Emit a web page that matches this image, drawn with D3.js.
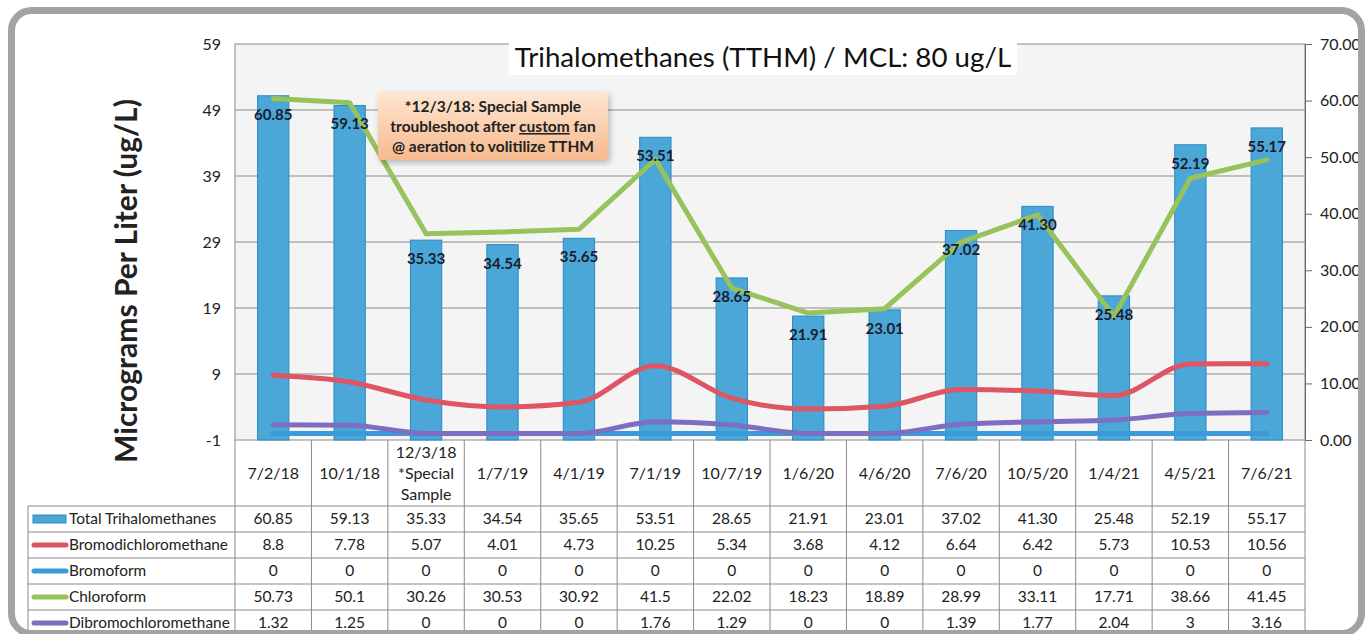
<!DOCTYPE html>
<html>
<head>
<meta charset="utf-8">
<script src="https://cdn.jsdelivr.net/npm/d3@7"></script>
<style>
  body { margin: 0; background: #fff; }
  text { font-family: Lato, "Open Sans", sans-serif; }
</style>
</head>
<body>
<div id="chart-container"></div>
<script>
// sample dates (x categories), "\n" splits the header cell into lines
const dates = ["7/2/18", "10/1/18", "12/3/18\n*Special\nSample", "1/7/19", "4/1/19", "7/1/19",
    "10/7/19", "1/6/20", "4/6/20", "7/6/20", "10/5/20", "1/4/21", "4/5/21", "7/6/21"];

const totalTHM = [60.85, 59.13, 35.33, 34.54, 35.65, 53.51, 28.65, 21.91, 23.01, 37.02, 41.30, 25.48, 52.19, 55.17];
const bromodichloromethane = [8.8, 7.78, 5.07, 4.01, 4.73, 10.25, 5.34, 3.68, 4.12, 6.64, 6.42, 5.73, 10.53, 10.56];
const bromoform = [0, 0, 0, 0, 0, 0, 0, 0, 0, 0, 0, 0, 0, 0];
const chloroform = [50.73, 50.1, 30.26, 30.53, 30.92, 41.5, 22.02, 18.23, 18.89, 28.99, 33.11, 17.71, 38.66, 41.45];
const dibromochloromethane = [1.32, 1.25, 0, 0, 0, 1.76, 1.29, 0, 0, 1.39, 1.77, 2.04, 3, 3.16];

const leftTicks = [-1, 9, 19, 29, 39, 49, 59];
const rightTicks = [0, 10, 20, 30, 40, 50, 60, 70];

const title = "Trihalomethanes (TTHM) / MCL: 80 ug/L";
const yTitle = "Micrograms Per Liter (ug/L)";
const noteLines = ["*12/3/18: Special Sample", "troubleshoot after |custom| fan", "@ aeration to volitilize TTHM"];

// series rows of the data table (bars first, then lines)
const series = [
    { name: "Total Trihalomethanes", values: totalTHM, color: "#4aa7d8", type: "bar" },
    { name: "Bromodichloromethane", values: bromodichloromethane, color: "#de5563", type: "line", curve: d3.curveMonotoneX },
    { name: "Bromoform", values: bromoform, color: "#3b9bd8", type: "line", curve: d3.curveLinear },
    { name: "Chloroform", values: chloroform, color: "#97c25c", type: "line", curve: d3.curveLinear },
    { name: "Dibromochloromethane", values: dibromochloromethane, color: "#7d6ec2", type: "line", curve: d3.curveMonotoneX }
];

const W = 1368, H = 634;
const plot = { left: 235, right: 1305, top: 44, bottom: 440 };
const tableLeft = 28, headerBottom = 506, tableBottom = 636;

const svg = d3.select("#chart-container")
    .append("svg")
    .attr("width", W)
    .attr("height", H);

svg.append("rect").attr("width", W).attr("height", H).attr("fill", "#fff");

// scales
const x = d3.scaleBand().domain(dates).range([plot.left, plot.right]);
const xBar = d3.scaleBand().domain(dates).range([plot.left, plot.right])
    .paddingInner(0.59).paddingOuter(0.295);
const yLeft = d3.scaleLinear().domain([-1, 59]).range([plot.bottom, plot.top]);
const yRight = d3.scaleLinear().domain([0, 70]).range([plot.bottom, plot.top]);
const row = d3.scaleBand().domain(series.map(s => s.name)).range([headerBottom, tableBottom]);

// plot background
svg.append("rect")
    .attr("x", plot.left).attr("y", plot.top)
    .attr("width", plot.right - plot.left).attr("height", plot.bottom - plot.top)
    .attr("fill", "#f4f4f4")
    .attr("stroke", "#8a8a8a").attr("stroke-width", 1);

// horizontal gridlines
svg.selectAll(".grid")
    .data(leftTicks.slice(1, -1))
    .join("line")
    .attr("x1", plot.left).attr("x2", plot.right)
    .attr("y1", d => yLeft(d)).attr("y2", d => yLeft(d))
    .attr("stroke", "#8a8a8a").attr("stroke-width", 1);

// left axis
const gLeft = svg.append("g")
    .attr("transform", `translate(${plot.left},0)`)
    .call(d3.axisLeft(yLeft).tickValues(leftTicks).tickSize(0).tickPadding(14)
        .tickFormat(d => String(d)));
gLeft.select(".domain").remove();
gLeft.selectAll("text").attr("font-size", 16).attr("fill", "#222")
    .attr("font-family", "Lato, sans-serif");

// right axis
const gRight = svg.append("g")
    .attr("transform", `translate(${plot.right},0)`)
    .call(d3.axisRight(yRight).tickValues(rightTicks).tickSize(7).tickPadding(8)
        .tickFormat(d3.format(".2f")));
gRight.select(".domain").attr("stroke", "#666");
gRight.selectAll("line").attr("stroke", "#666");
gRight.selectAll("text").attr("font-size", 16).attr("fill", "#222")
    .attr("font-family", "Lato, sans-serif");

// bars (right axis)
const bars = series[0];
svg.selectAll(".bar")
    .data(bars.values)
    .join("rect")
    .attr("x", (d, i) => xBar(dates[i]))
    .attr("width", xBar.bandwidth())
    .attr("y", d => yRight(d))
    .attr("height", d => yRight(0) - yRight(d))
    .attr("fill", bars.color)
    .attr("stroke", "#2a8ac4").attr("stroke-width", 1);

// lines (left axis)
series.slice(1).forEach(s => {
    const line = d3.line()
        .x((d, i) => x(dates[i]) + x.bandwidth() / 2)
        .y(d => yLeft(d))
        .curve(s.curve);
    svg.append("path")
        .datum(s.values)
        .attr("fill", "none")
        .attr("stroke", s.color)
        .attr("stroke-width", 5)
        .attr("stroke-linejoin", "round")
        .attr("stroke-linecap", "round")
        .attr("d", line);
});

// bar value labels, inside end, above the lines
svg.selectAll(".barLabel")
    .data(bars.values)
    .join("text")
    .attr("x", (d, i) => x(dates[i]) + x.bandwidth() / 2)
    .attr("y", d => yRight(d) + 24)
    .attr("text-anchor", "middle")
    .attr("font-size", 15)
    .attr("font-weight", "bold")
    .attr("fill", "#1c1c2c")
    .text(d => d.toFixed(2));

// title on a white patch
const titleText = svg.append("text")
    .attr("x", 763).attr("y", 67)
    .attr("text-anchor", "middle")
    .attr("font-size", 27.7)
    .attr("fill", "#111")
    .text(title);
const tb = titleText.node().getBBox();
svg.insert("rect", () => titleText.node())
    .attr("x", tb.x - 6).attr("y", tb.y - 2)
    .attr("width", tb.width + 12).attr("height", tb.height + 4)
    .attr("fill", "#fff");

// annotation box
const defs = svg.append("defs");
const grad = defs.append("linearGradient").attr("id", "noteFill")
    .attr("x1", 0).attr("y1", 0).attr("x2", 0).attr("y2", 1);
grad.append("stop").attr("offset", "0%").attr("stop-color", "#fde6d2");
grad.append("stop").attr("offset", "100%").attr("stop-color", "#f7b98e");
defs.append("filter").attr("id", "noteShadow")
    .append("feDropShadow").attr("dx", 2).attr("dy", 3).attr("stdDeviation", 3)
    .attr("flood-color", "#000").attr("flood-opacity", 0.25);

svg.append("rect")
    .attr("x", 378).attr("y", 92).attr("width", 230).attr("height", 68)
    .attr("rx", 3)
    .attr("fill", "url(#noteFill)")
    .attr("filter", "url(#noteShadow)");

const note = svg.append("text")
    .attr("text-anchor", "middle")
    .attr("font-size", 15.5)
    .attr("font-weight", "bold")
    .attr("fill", "#222");
noteLines.forEach((l, i) => {
    const t = note.append("tspan").attr("x", 493).attr("y", 112 + i * 20);
    l.split("|").forEach((part, j) => {
        t.append("tspan").attr("text-decoration", j === 1 ? "underline" : null).text(part);
    });
});

// y axis title
svg.append("text")
    .attr("transform", `translate(137, 281) rotate(-90)`)
    .attr("text-anchor", "middle")
    .attr("font-size", 30)
    .attr("font-weight", "bold")
    .attr("fill", "#222")
    .text(yTitle);

// data table
const tableLine = "#8a8a8a";
const table = svg.append("g");

// vertical cell borders
table.selectAll(".vline")
    .data(dates.concat(["end"]))
    .join("line")
    .attr("x1", (d, i) => plot.left + i * x.step())
    .attr("x2", (d, i) => plot.left + i * x.step())
    .attr("y1", plot.bottom).attr("y2", tableBottom)
    .attr("stroke", tableLine);
table.append("line")
    .attr("x1", tableLeft).attr("x2", tableLeft)
    .attr("y1", headerBottom).attr("y2", tableBottom)
    .attr("stroke", tableLine);

// horizontal row borders
table.selectAll(".hline")
    .data(series)
    .join("line")
    .attr("x1", tableLeft).attr("x2", plot.right)
    .attr("y1", d => row(d.name)).attr("y2", d => row(d.name))
    .attr("stroke", tableLine);

// header cells
dates.forEach(d => {
    const parts = d.split("\n");
    const t = table.append("text")
        .attr("text-anchor", "middle")
        .attr("font-size", 16)
        .attr("fill", "#222");
    parts.forEach((p, k) => {
        t.append("tspan")
            .attr("x", x(d) + x.bandwidth() / 2)
            .attr("y", (plot.bottom + headerBottom) / 2 + 6 + (k - (parts.length - 1) / 2) * 21)
            .text(p);
    });
});

// value cells + legend keys
series.forEach((s, si) => {
    const cy = row(s.name) + 13;
    table.selectAll(null)
        .data(s.values)
        .join("text")
        .attr("x", (d, i) => x(dates[i]) + x.bandwidth() / 2)
        .attr("y", cy + 5)
        .attr("text-anchor", "middle")
        .attr("font-size", 15.5)
        .attr("fill", "#222")
        .text(d => si === 0 ? d.toFixed(2) : String(d));

    if (s.type === "bar") {
        table.append("rect")
            .attr("x", 33).attr("y", cy - 4).attr("width", 33).attr("height", 8)
            .attr("fill", s.color).attr("stroke", "#2a8ac4");
    } else {
        table.append("line")
            .attr("x1", 34).attr("x2", 66).attr("y1", cy).attr("y2", cy)
            .attr("stroke", s.color).attr("stroke-width", 5)
            .attr("stroke-linecap", "round");
    }
    table.append("text")
        .attr("x", 69).attr("y", cy + 5)
        .attr("font-size", 15.4)
        .attr("fill", "#222")
        .text(s.name);
});

// rounded frame around everything
svg.append("rect")
    .attr("x", 11.5).attr("y", 10.5)
    .attr("width", 1350).attr("height", 623)
    .attr("rx", 20)
    .attr("fill", "none")
    .attr("stroke", "#a3a3a3")
    .attr("stroke-width", 7);
</script>
</body>
</html>
